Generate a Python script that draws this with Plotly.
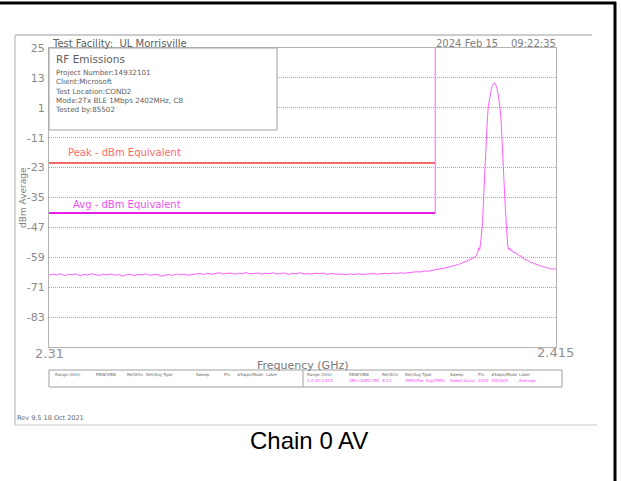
import plotly.graph_objects as go

# ---------------- data ----------------
x_range = [2.31, 2.415]
y_range = [-95, 25]
y_ticks = [25, 13, 1, -11, -23, -35, -47, -59, -71, -83]
x_tick_labels = ["2.31", "2.415"]

band_edge_ghz = 2.39
peak_limit_dbm = -21.2
avg_limit_dbm = -41.2

# noise floor sweep (uniform sweep grid), levels
noise_start_ghz = 2.310
noise_step_ghz = 0.0008
noise_dbm = [
    -66.2, -65.8, -66.1, -65.6, -66.3, -65.9, -66.0, -65.7, -66.4, -65.9,
    -66.1, -65.6, -66.0, -66.3, -65.8, -66.1, -65.7, -66.2, -65.9, -66.5,
    -66.0, -65.8, -66.3, -65.9, -66.1, -65.6, -66.2, -66.0, -65.8, -66.6,
    -66.1, -65.9, -66.3, -65.7, -66.0, -65.8, -66.2, -65.9,
    -65.7, -65.5, -65.9, -65.4, -65.8, -65.5, -65.2, -65.7, -65.6, -65.3,
    -65.8, -65.4, -65.6, -65.1, -65.7, -65.5, -65.3, -65.8, -65.4, -65.6,
    -65.2, -65.7, -65.5, -65.3, -65.9, -65.4, -65.6, -65.2, -65.7, -65.5,
    -65.8, -65.4, -65.6, -65.3, -65.9, -65.5, -65.7, -65.6,
    -65.8, -66.0, -65.7, -65.9, -65.6, -65.9, -65.7, -65.8, -65.5, -65.8,
    -65.6, -65.4, -65.7, -65.3, -65.5, -65.2, -65.4, -65.1,
    -65.0, -64.8, -64.9, -64.5, -64.6, -64.2, -64.0, -63.7, -63.5, -63.0,
    -62.8, -62.3, -61.9, -61.2, -60.6, -60.0, -59.2,
]
noise_ghz = [round(noise_start_ghz + i * noise_step_ghz, 5) for i in range(len(noise_dbm))]

carrier_ghz = [
    2.3985, 2.3988, 2.3990, 2.3992, 2.3994, 2.3996, 2.3998, 2.4000, 2.4002, 2.4004,
    2.4006, 2.4008, 2.4010, 2.4012, 2.4014, 2.4016, 2.4018, 2.4020, 2.4022, 2.4024,
    2.4026, 2.4028, 2.4030, 2.4032, 2.4034, 2.4036, 2.4038, 2.4040, 2.4042, 2.4044,
    2.4046, 2.4048, 2.4050, 2.4052, 2.4054,
]
carrier_dbm = [
    -58.4, -57.0, -55.2, -56.0, -53.0, -49.5, -45.0, -35.5, -26.5, -17.5,
    -9.0, -3.0, 1.8, 4.8, 6.9, 8.5, 9.7, 10.6, 11.0, 10.9,
    10.0, 8.6, 6.6, 4.2, 1.2, -3.0, -9.5, -18.0, -27.0, -35.5,
    -44.0, -50.5, -54.5, -55.8, -55.2,
]

skirt_ghz = [
    2.4056, 2.4058, 2.4060, 2.4063, 2.4066, 2.4069, 2.4072, 2.4075, 2.4078, 2.4081,
    2.4084, 2.4087, 2.4090, 2.4093, 2.4096, 2.4099, 2.4102, 2.4105, 2.4108, 2.4111,
    2.4114, 2.4117, 2.4120, 2.4123, 2.4126, 2.4129, 2.4132, 2.4135, 2.4138, 2.4141,
    2.4144, 2.4147, 2.4150,
]
skirt_dbm = [
    -56.4, -55.9, -56.8, -57.2, -56.9, -57.8, -58.0, -58.6, -58.4, -59.3,
    -59.6, -60.1, -59.9, -60.6, -60.8, -61.3, -61.1, -61.7, -61.6, -62.2,
    -62.0, -62.6, -62.4, -62.9, -63.1, -62.8, -63.4, -63.2, -63.7, -63.5,
    -63.9, -63.4, -63.8,
]

trace_ghz = noise_ghz + carrier_ghz + skirt_ghz
trace_dbm = noise_dbm + carrier_dbm + skirt_dbm

info_title = "RF Emissions"
info_lines = [
    "Project Number:14932101",
    "Client:Microsoft",
    "Test Location:COND2",
    "Mode:2Tx BLE 1Mbps 2402MHz, C8",
    "Tested by:85502",
]
table_headers = ["Range (GHz)", "RBW/VBW", "Ref/Attn", "Det/Avg Type", "Sweep", "Pts", "#Swps/Mode", "Label"]
table_values = ["2:2.31-2.415", "1M/>3xBD(3M)", "4/14", "(RMS)Pwr Avg(RMS)", "Swept(Auto)", "2000", "100/AVG", "Average"]

# ---------------- layout helpers ----------------
W, H = 621, 481
L, R, T, B = 49, 556, 48, 347


def px(x):
    return (x - L) / (R - L)


def py(y):
    return (B - y) / (B - T)


INST = "DejaVu Sans, sans-serif"
GRAY = "#6e6e6e"
MAG = "#ff5cff"

fig = go.Figure()

fig.add_trace(go.Scatter(x=[x_range[0], band_edge_ghz], y=[peak_limit_dbm, peak_limit_dbm],
                         mode="lines", line=dict(color="#ee3b3b", width=1.5), hoverinfo="skip"))
fig.add_trace(go.Scatter(x=[x_range[0], band_edge_ghz], y=[avg_limit_dbm, avg_limit_dbm],
                         mode="lines", line=dict(color="#e61ee6", width=2), hoverinfo="skip"))
fig.add_trace(go.Scatter(x=[band_edge_ghz, band_edge_ghz], y=[y_range[1], avg_limit_dbm],
                         mode="lines", line=dict(color="#ff77ff", width=1.2), hoverinfo="skip"))
fig.add_trace(go.Scatter(x=trace_ghz, y=trace_dbm, mode="lines",
                         line=dict(color=MAG, width=1), hoverinfo="skip"))

shapes = []


def pline(x0, y0, x1, y1, color, width):
    shapes.append(dict(type="line", xref="paper", yref="paper", x0=px(x0), y0=py(y0),
                       x1=px(x1), y1=py(y1), line=dict(color=color, width=width), layer="above"))


# outer black frame (top and right)
pline(0, 3, 616, 3, "black", 3)
pline(615, 2, 615, 481, "black", 3)
# screenshot gray frame
pline(15, 35, 592, 35, "#9a9a9a", 1.2)
pline(15, 35, 15, 425, "#b0b0b0", 1)
pline(15, 425, 597, 425, "#c8c8c8", 1)
# info box
shapes.append(dict(type="rect", xref="paper", yref="paper", x0=px(49), y0=py(130), x1=px(277), y1=py(48),
                   line=dict(color="#a0a0a0", width=1), fillcolor="white", layer="above"))
# table box
shapes.append(dict(type="rect", xref="paper", yref="paper", x0=px(49), y0=py(387), x1=px(562), y1=py(370),
                   line=dict(color="#a0a0a0", width=1), fillcolor="rgba(0,0,0,0)", layer="above"))
pline(303, 370, 303, 387, "#a0a0a0", 1)

annotations = []


def text(x, y, s, size=9, color=GRAY, anchor="left", family=INST, angle=0, valign="middle"):
    annotations.append(dict(x=px(x), y=py(y), xref="paper", yref="paper", text=s, showarrow=False,
                            xanchor=anchor, yanchor=valign, textangle=angle, align="left",
                            font=dict(family=family, size=size, color=color), borderpad=0))


text(51, 43, "Test Facility:  UL Morrisville", size=10, color="#606060")
text(557, 43, "2024 Feb 15    09:22:35", size=10, color="#808080", anchor="right")
text(55, 59, info_title, size=10.5, color="#606060")
text(54, 67, "<br>".join(info_lines), size=7.2, color="#606060", valign="top")
text(67, 152, "Peak - dBm Equivalent", size=10, color="#ff6a6a")
text(72, 204, "Avg - dBm Equivalent", size=10, color="#f050f0")
text(23, 198, "dBm Average", size=9, color="#808080", anchor="center", angle=-90)
text(49, 353, x_tick_labels[0], size=13, color="#909090", anchor="center")
text(555, 352, x_tick_labels[1], size=13, color="#909090", anchor="center")
text(302, 365, "Frequency (GHz)", size=11, color="#777777", anchor="center")

left_cols = [54, 95, 126, 145, 195, 223, 236, 265]
right_cols = [306, 348, 381, 404, 449, 477, 490, 518]
for cx, h in zip(left_cols, table_headers):
    text(cx, 374.5, h, size=4, color="#666666")
for cx, h, v in zip(right_cols, table_headers, table_values):
    text(cx, 374.5, h, size=4, color="#666666")
    text(cx, 380, v, size=4, color="#ff44ff")
text(16, 418, "Rev 9.5 18 Oct 2021", size=6.5, color="#666666")
text(309, 440, "Chain 0 AV", size=24, color="black", anchor="center",
     family="Liberation Sans, Arial, sans-serif")

fig.update_layout(
    width=W, height=H, autosize=False,
    margin=dict(l=L, r=W - R, t=T, b=H - B, pad=0),
    paper_bgcolor="white", plot_bgcolor="white",
    showlegend=False,
    shapes=shapes, annotations=annotations,
    xaxis=dict(range=x_range, showgrid=False, zeroline=False, showticklabels=False, ticks="",
               showline=True, mirror=True, linecolor="#b4b4b4", linewidth=1),
    yaxis=dict(range=y_range, tickvals=y_ticks, ticktext=[str(v) for v in y_ticks],
               showgrid=True, gridcolor="#a8a8a8", griddash="1px,1px", gridwidth=1, zeroline=False,
               ticks="", ticklabelstandoff=1,
               tickfont=dict(family=INST, size=11, color="#8a8a8a"),
               showline=True, mirror=True, linecolor="#b4b4b4", linewidth=1),
)

fig.write_html("out.html", include_plotlyjs=True, config={"displayModeBar": False},
               post_script="document.body.style.margin='0';document.body.style.overflow='hidden';")
